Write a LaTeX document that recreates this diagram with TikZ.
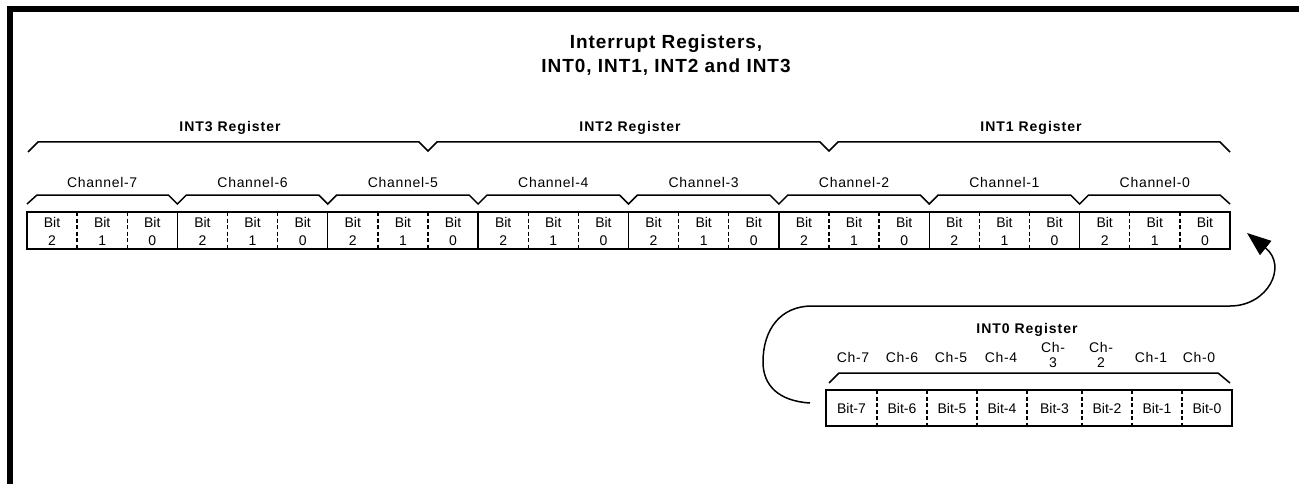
\documentclass[tikz,border=0pt]{standalone}
\usepackage{fontspec}
\setmainfont{Liberation Sans}
\newfontfamily\lsfont[LetterSpace=5]{Liberation Sans}
\newfontfamily\lsbfont[LetterSpace=7]{Liberation Sans}
\usetikzlibrary{arrows.meta,calc}
\begin{document}
\begin{tikzpicture}[x=1pt,y=-1pt,
  frame/.style={line width=6pt,line join=miter,line cap=rect},
  reg/.style={line width=1.5pt},
  sepsolid/.style={line width=1.3pt},
  sepdash/.style={line width=1.3pt,dash pattern=on 4pt off 2.5pt},
  brace/.style={line width=1.5pt,line join=miter},
  bitcell/.style={font=\fontsize{14}{18}\selectfont,align=center,inner sep=0pt},
  chlbl/.style={font=\lsfont\fontsize{14}{17}\selectfont,inner sep=0pt},
  reglbl/.style={font=\lsbfont\bfseries\fontsize{14}{17}\selectfont,inner sep=0pt},
  titlelbl/.style={font=\lsfont\bfseries\fontsize{19}{24}\selectfont,align=center,inner sep=0pt},
  smallch/.style={font=\lsfont\fontsize{14}{15}\selectfont,align=center,inner sep=0pt},
  arrowline/.style={line width=1.5pt,-{Triangle[length=24pt,width=18pt]}}
]
\useasboundingbox (0,0) rectangle (1299,484);
% frame
\draw[frame] (10,484) -- (10,9) -- (1302,9);
% title
\node[titlelbl] (title) at (666,55) {Interrupt Registers,\\INT0, INT1, INT2 and INT3};
% register labels
\node[reglbl] (r3) at (230,128) {INT3 Register};
\node[reglbl] (r2) at (630,128) {INT2 Register};
\node[reglbl] (r1) at (1031,128) {INT1 Register};
% register brace
\draw[brace] (28,152) -- (38,142) -- (419,142) -- (428,151) -- (437,142)
  -- (820,142) -- (829,151) -- (838,142) -- (1220,142) -- (1230,152);
% channel labels
\foreach \c in {0,...,7}{
  \pgfmathsetmacro\cx{27+(\c+0.5)*150.375}
  \pgfmathtruncatemacro\cn{7-\c}
  \node[chlbl] (ch\cn) at (\cx,182) {Channel-\cn};
}
% channel brace
\draw[brace] (27,204) -- (37,195)
  \foreach \k in {1,...,7}{ -- ({27+\k*150.375-9},195) -- ({27+\k*150.375},204) -- ({27+\k*150.375+9},195) }
  -- (1220,195) -- (1230,204);
% bit cells
\foreach \i in {0,...,23}{
  \pgfmathsetmacro\cx{27+(\i+0.5)*50.125}
  \pgfmathtruncatemacro\d{2-mod(\i,3)}
  \node[bitcell] (b\i) at (\cx,231) {Bit\\\d};
}
\draw[reg] (27,212) rectangle (1230,249);
\foreach \i in {1,...,23}{
  \pgfmathsetmacro\sx{27+\i*50.125}
  \pgfmathtruncatemacro\m{mod(\i,3)}
  \ifnum\m=0
    \draw[sepsolid] (\sx,212) -- (\sx,249);
  \else
    \draw[sepdash] (\sx,212) -- (\sx,249);
  \fi
}
% INT0 register
\node[reglbl] (r0) at (1027,330) {INT0 Register};
\foreach \n/\lx in {7/853,6/902,5/951,4/1001,1/1151,0/1199}{
  \node[smallch] (c\n) at (\lx,357) {Ch-\n};
}
\node[smallch] (c3) at (1053,354.5) {Ch-\\3};
\node[smallch] (c2) at (1101,354.5) {Ch-\\2};
\draw[brace] (829,383) -- (839,373) -- (1218,373) -- (1230,383);
\foreach \l/\r/\n in {826/877/7,877/927/6,927/977/5,977/1027/4,1027/1082/3,1082/1132/2,1132/1182/1,1182/1232/0}{
  \node[bitcell] (z\n) at ({(\l+\r)/2},408) {Bit-\n};
}
\draw[reg] (826,390) rectangle (1232,426);
\foreach \sx in {877,927,977,1027,1082,1132,1182}{
  \draw[sepdash] (\sx,390) -- (\sx,426);
}
% connector from INT0 to INT1
\coordinate (aS) at (810,403);
\coordinate (aL) at (763,362);
\coordinate (aT) at (812,306);
\coordinate (aR) at (1230,306);
\coordinate (aE) at (1247,233);
\draw[arrowline] (aS) .. controls (778,401) and (763,385) .. (aL)
  .. controls (763,330) and (780,306) .. (aT) -- (aR)
  .. controls (1268,306) and (1288,266) .. (aE);
\end{tikzpicture}
\end{document}
